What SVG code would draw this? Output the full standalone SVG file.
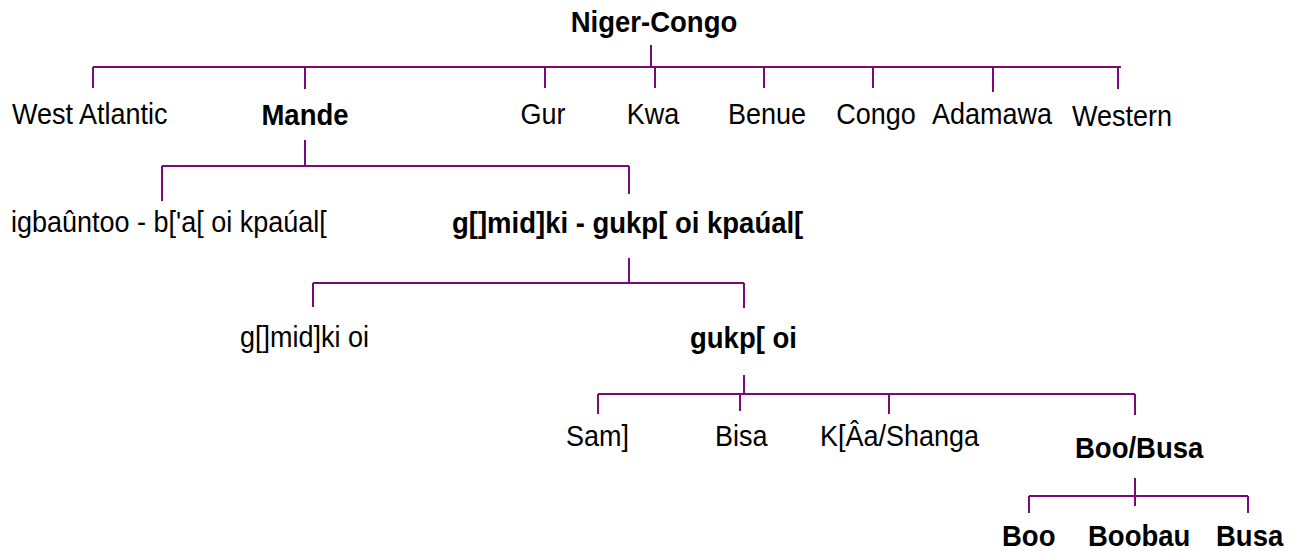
<svg xmlns="http://www.w3.org/2000/svg" width="1298" height="551" viewBox="0 0 1298 551">
<style>
text{font-family:"Liberation Sans",Arial,sans-serif;font-size:27px;fill:#000}
.b{font-weight:bold;font-size:27.5px}
.c{text-anchor:middle}
#connectors path{fill:none;stroke:#7a0a78;stroke-width:2}
</style>
<rect width="1298" height="551" fill="#fff"/>
<g id="connectors">
<path d="M651,45V67M93,67H1121M93,67V88M305,67V89M545,67V88M655,67V88M764,67V88M873,67V88M993,67V92M1118,67V89"/>
<path d="M305,140V166M162,166H629M162,166V201M629,166V194"/>
<path d="M629,258V283M313,283H744M313,283V307M744,283V308"/>
<path d="M744,375V394M598,394H1135M598,394V414M740,394V411M889,394V414M1135,394V415"/>
<path d="M1135,478V496M1029,496H1248M1029,496V513M1135,496V506M1248,496V513"/>
</g>
<g id="n-niger-congo"><text class="b c" transform="translate(654,32) scale(1,1.06)">Niger-Congo</text></g>
<g id="n-west-atlantic"><text transform="translate(12,124) scale(1,1.06)">West Atlantic</text></g>
<g id="n-mande"><text class="b c" transform="translate(305,125) scale(1,1.06)">Mande</text></g>
<g id="n-gur"><text class="c" transform="translate(543,124) scale(1,1.06)">Gur</text></g>
<g id="n-kwa"><text class="c" transform="translate(653,124) scale(1,1.06)">Kwa</text></g>
<g id="n-benue"><text class="c" transform="translate(767,124) scale(1,1.06)">Benue</text></g>
<g id="n-congo"><text class="c" transform="translate(876,124) scale(1,1.06)">Congo</text></g>
<g id="n-adamawa"><text class="c" transform="translate(992,124) scale(1,1.06)">Adamawa</text></g>
<g id="n-western"><text class="c" transform="translate(1122,126) scale(1,1.06)">Western</text></g>
<g id="n-igbauntoo"><text transform="translate(11,232) scale(1,1.06)">igbaûntoo - b['a[ oi kpaúal[</text></g>
<g id="n-gmidki-gukp"><text class="b" transform="translate(452,233) scale(1,1.06)">g[]mid]ki - gukp[ oi kpaúal[</text></g>
<g id="n-gmidki-oi"><text transform="translate(240,347) scale(1,1.06)">g[]mid]ki oi</text></g>
<g id="n-gukp-oi"><text class="b" transform="translate(690,348) scale(1,1.06)">gukp[ oi</text></g>
<g id="n-same"><text transform="translate(566,446) scale(1,1.06)">Sam]</text></g>
<g id="n-bisa"><text transform="translate(715,446) scale(1,1.06)">Bisa</text></g>
<g id="n-kaa-shanga"><text transform="translate(820,446) scale(1,1.06)">K[Âa/Shanga</text></g>
<g id="n-boo-busa"><text class="b" transform="translate(1075,458) scale(1,1.06)">Boo/Busa</text></g>
<g id="n-boo"><text class="b" transform="translate(1002,546) scale(1,1.06)">Boo</text></g>
<g id="n-boobau"><text class="b" transform="translate(1088,546) scale(1,1.06)">Boobau</text></g>
<g id="n-busa"><text class="b" transform="translate(1216,546) scale(1,1.06)">Busa</text></g>
</svg>
